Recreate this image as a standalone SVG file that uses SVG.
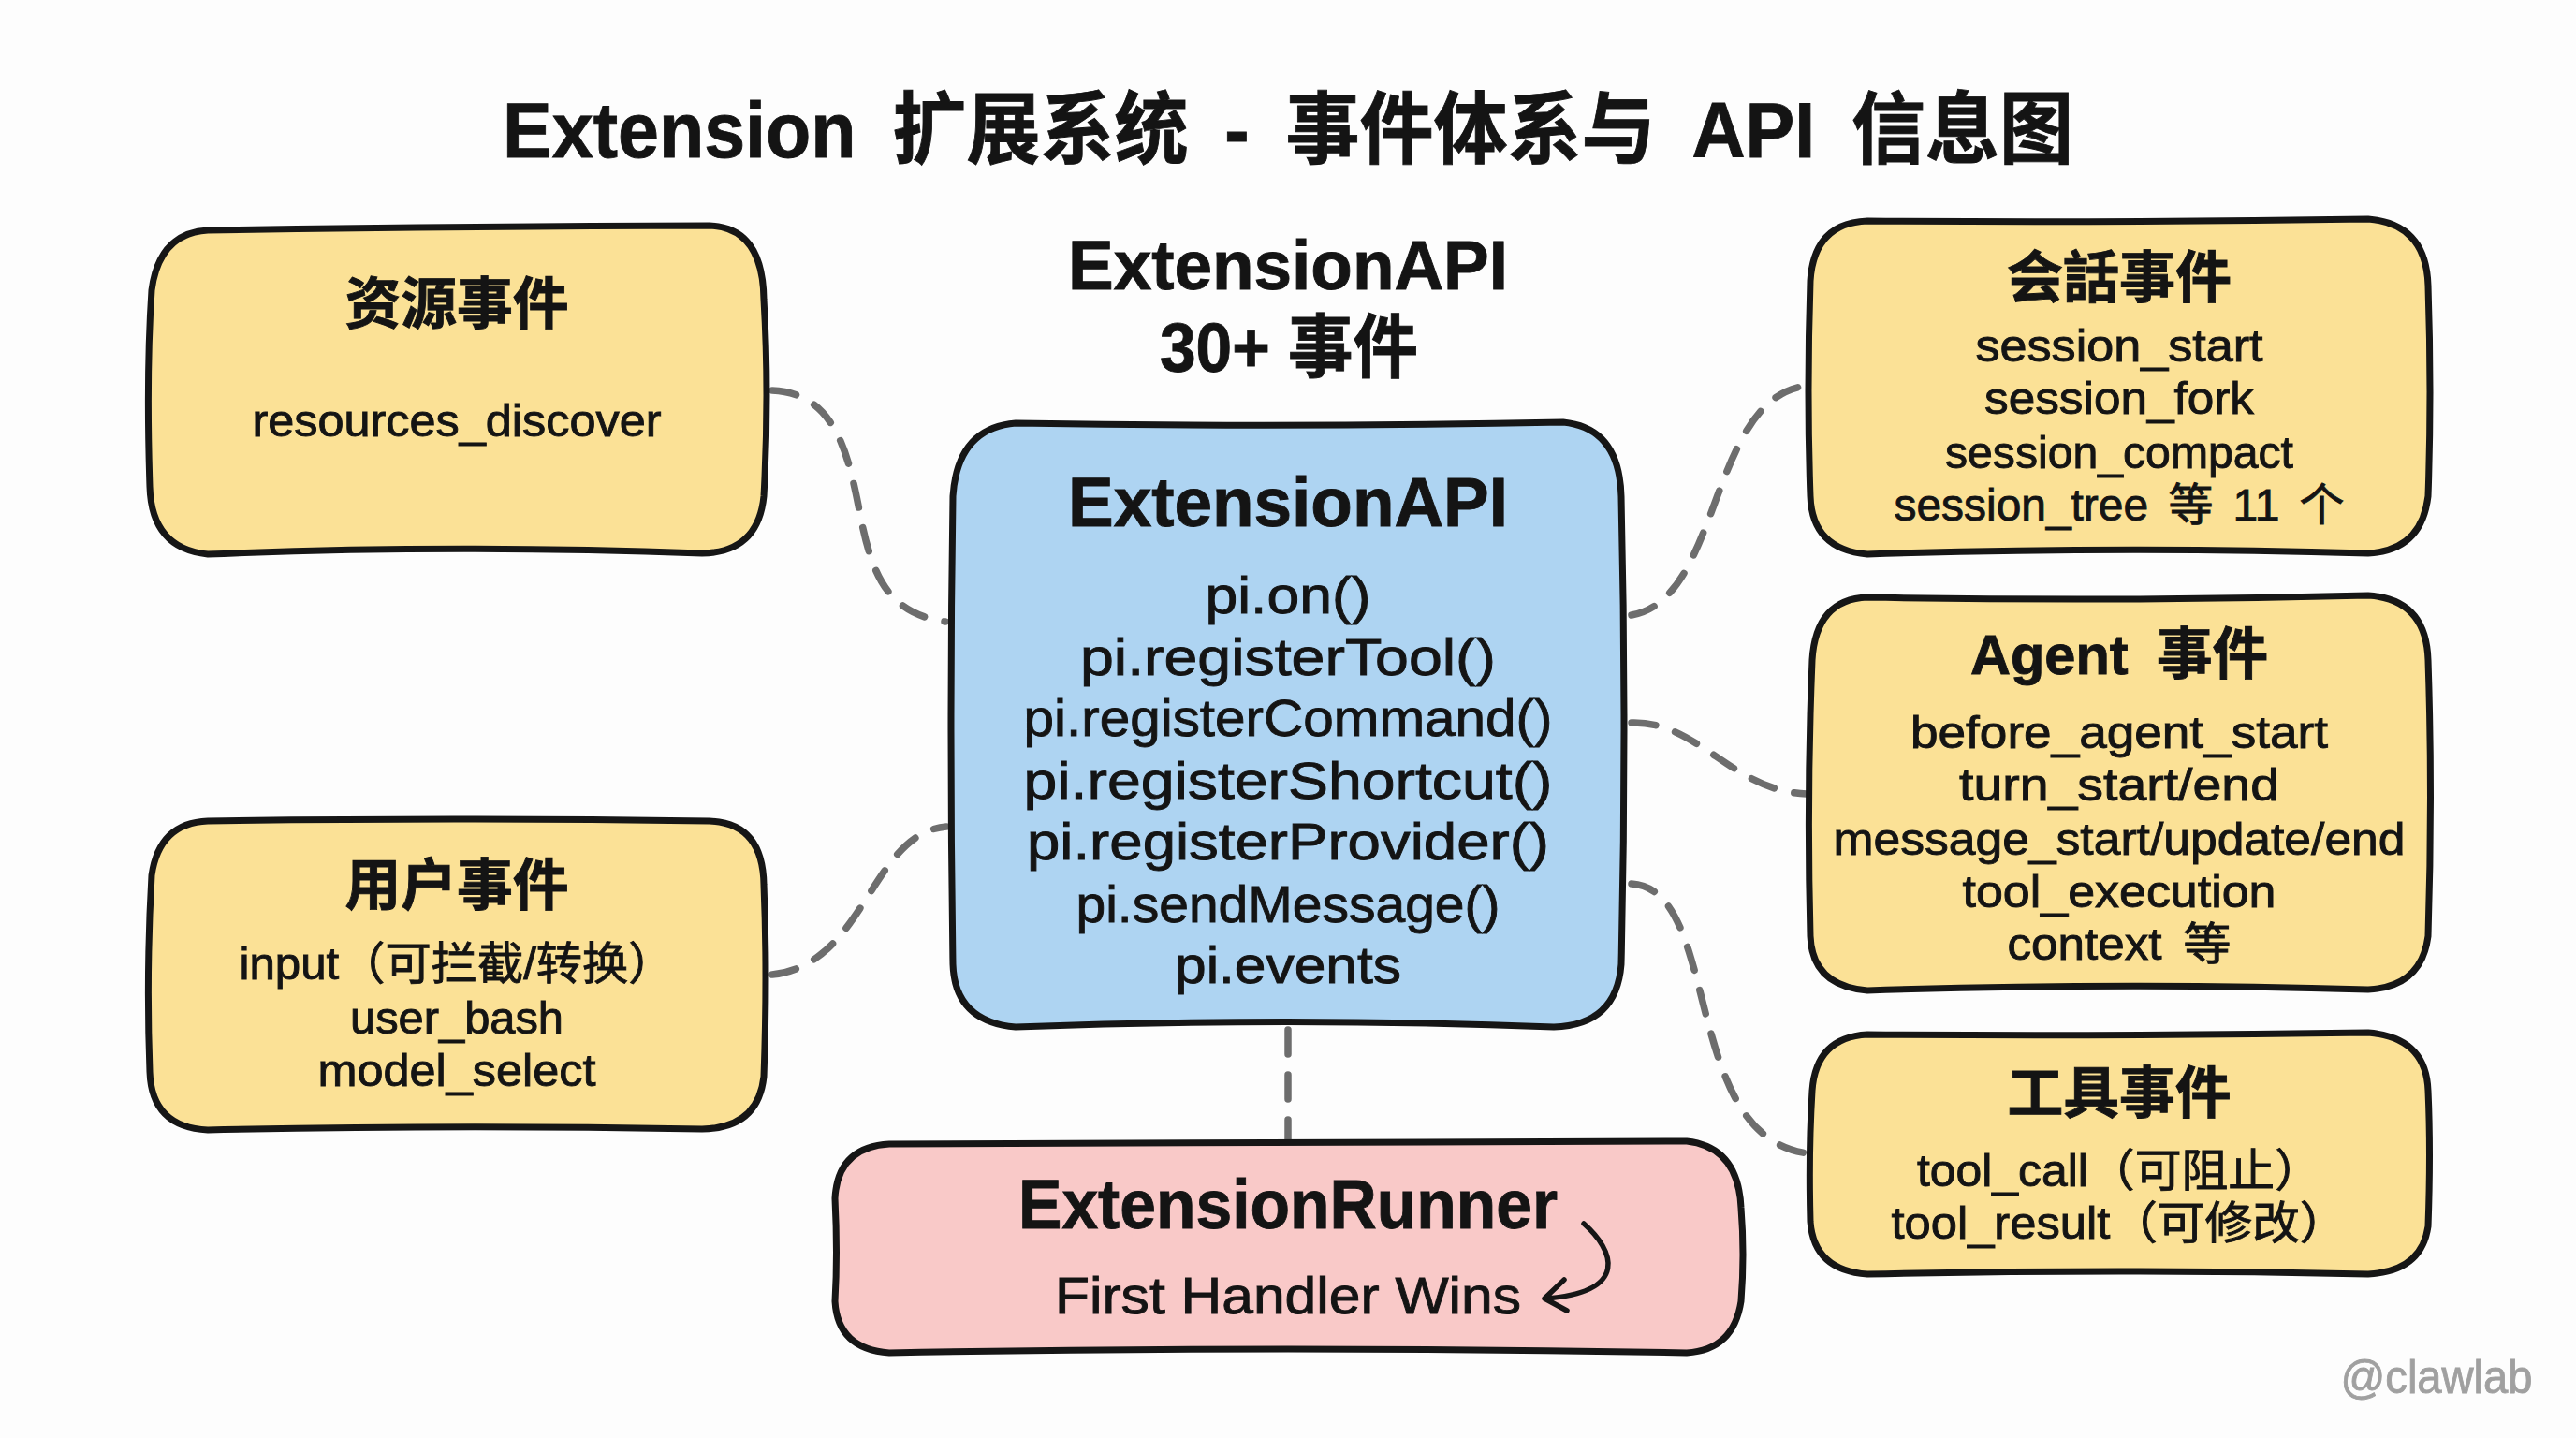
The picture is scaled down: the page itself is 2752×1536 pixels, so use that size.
<svg xmlns="http://www.w3.org/2000/svg" width="2752" height="1536" viewBox="0 0 2752 1536">
<style>
text{font-family:"Liberation Sans","Noto Sans CJK SC",sans-serif;fill:#141414;text-anchor:middle;stroke:#141414;stroke-width:.9px}
.b{fill:none;stroke:#161616;stroke-width:7;stroke-linejoin:round}
.y{fill:#fbe196}.s{fill:#aed4f2}.p{fill:#f9c9c8}
.t{font-size:84px;font-weight:700;word-spacing:18px}
.h{font-size:74px;font-weight:700}
.h2{font-size:60px;font-weight:700;word-spacing:14px}
.m{font-size:56px}
.n{font-size:48px;word-spacing:8px}
.c{fill:none;stroke:#6d6d6d;stroke-width:7.5;stroke-linecap:round;stroke-dasharray:26 22}
</style>
<rect width="2752" height="1536" fill="#fdfdfd"/>
<g id="connectors">
<path class="c" d="M825 417C890 420 905 480 917 540C930 610 945 655 1010 664"/>
<path class="c" d="M825 1041C925 1030 930 890 1011 883"/>
<path class="c" d="M1743 657C1840 640 1825 425 1930 412"/>
<path class="c" d="M1743 772C1815 770 1850 845 1930 848"/>
<path class="c" d="M1743 944C1840 950 1795 1215 1932 1232"/>
<path class="c" d="M1376 1100V1220"/>
</g>
<text class="t" x="1376" y="168" textLength="1678" lengthAdjust="spacingAndGlyphs">Extension 扩展系统 - 事件体系与 API 信息图</text>
<g id="api-label">
<text class="h" x="1376" y="309" textLength="470" lengthAdjust="spacingAndGlyphs">ExtensionAPI</text>
<text class="h" x="1377" y="397" textLength="276" lengthAdjust="spacingAndGlyphs">30+ 事件</text>
</g>
<g id="resource-events">
<path class="b y" d="M222 246Q480 242 758 241Q815 243 816 320Q822 420 816 530Q810 590 750 591Q480 581 222 592Q162 586 160 520Q156 400 162 310Q170 249 222 246Z"/>
<text class="h2" x="488" y="346" textLength="239" lengthAdjust="spacingAndGlyphs">资源事件</text>
<text class="n" x="488" y="466" textLength="437" lengthAdjust="spacingAndGlyphs">resources_discover</text>
</g>
<g id="user-events">
<path class="b y" d="M222 877Q480 873 758 877Q815 879 816 945Q820 1040 816 1150Q810 1205 750 1206Q480 1201 222 1207Q162 1204 160 1145Q156 1040 162 935Q170 879 222 877Z"/>
<text class="h2" x="488" y="967" textLength="239" lengthAdjust="spacingAndGlyphs">用户事件</text>
<text class="n" x="488" y="1046" textLength="465" lengthAdjust="spacingAndGlyphs">input（可拦截/转换）</text>
<text class="n" x="488" y="1104" textLength="228" lengthAdjust="spacingAndGlyphs">user_bash</text>
<text class="n" x="488" y="1160" textLength="297" lengthAdjust="spacingAndGlyphs">model_select</text>
</g>
<g id="extension-api">
<path class="b s" d="M1085 452Q1376 457 1670 451Q1730 457 1732 530Q1738 780 1732 1030Q1727 1095 1660 1097Q1376 1086 1085 1097Q1020 1091 1018 1030Q1014 780 1018 530Q1023 457 1085 452Z"/>
<text class="h" x="1376" y="562" textLength="470" lengthAdjust="spacingAndGlyphs">ExtensionAPI</text>
<text class="m" x="1376" y="655" textLength="177" lengthAdjust="spacingAndGlyphs">pi.on()</text>
<text class="m" x="1376" y="721" textLength="444" lengthAdjust="spacingAndGlyphs">pi.registerTool()</text>
<text class="m" x="1376" y="786" textLength="565" lengthAdjust="spacingAndGlyphs">pi.registerCommand()</text>
<text class="m" x="1376" y="853" textLength="565" lengthAdjust="spacingAndGlyphs">pi.registerShortcut()</text>
<text class="m" x="1376" y="918" textLength="558" lengthAdjust="spacingAndGlyphs">pi.registerProvider()</text>
<text class="m" x="1376" y="985" textLength="453" lengthAdjust="spacingAndGlyphs">pi.sendMessage()</text>
<text class="m" x="1376" y="1050" textLength="242" lengthAdjust="spacingAndGlyphs">pi.events</text>
</g>
<g id="extension-runner">
<path class="b p" d="M950 1222Q1376 1222 1802 1219Q1857 1225 1860 1290Q1864 1340 1860 1390Q1852 1442 1802 1445Q1376 1437 950 1445Q895 1441 892 1390Q895 1340 892 1280Q895 1225 950 1222Z"/>
<text class="h" x="1376" y="1312" textLength="576" lengthAdjust="spacingAndGlyphs">ExtensionRunner</text>
<text class="m" x="1376" y="1403" textLength="498" lengthAdjust="spacingAndGlyphs">First Handler Wins</text>
<path fill="none" stroke="#161616" stroke-width="5.5" stroke-linecap="round" stroke-linejoin="round" d="M1692 1307C1724 1335 1742 1380 1651 1387M1671 1367L1650 1387L1674 1400"/>
</g>
<g id="session-events">
<path class="b y" d="M1995 236Q2264 238 2530 234Q2592 239 2594 305Q2598 420 2594 530Q2587 588 2530 591Q2264 583 1995 592Q1936 587 1934 530Q1930 420 1934 300Q1938 238 1995 236Z"/>
<text class="h2" x="2264" y="318" textLength="240" lengthAdjust="spacingAndGlyphs">会話事件</text>
<text class="n" x="2264" y="386" textLength="307" lengthAdjust="spacingAndGlyphs">session_start</text>
<text class="n" x="2264" y="442" textLength="288" lengthAdjust="spacingAndGlyphs">session_fork</text>
<text class="n" x="2264" y="500" textLength="372" lengthAdjust="spacingAndGlyphs">session_compact</text>
<text class="n" x="2264" y="556" textLength="481" lengthAdjust="spacingAndGlyphs">session_tree 等 11 个</text>
</g>
<g id="agent-events">
<path class="b y" d="M1995 638Q2264 643 2530 636Q2592 640 2594 705Q2599 850 2594 1000Q2587 1054 2530 1057Q2264 1049 1995 1058Q1936 1053 1934 1000Q1930 850 1936 705Q1940 640 1995 638Z"/>
<text class="h2" x="2264" y="720" textLength="318" lengthAdjust="spacingAndGlyphs">Agent 事件</text>
<text class="n" x="2264" y="799" textLength="446" lengthAdjust="spacingAndGlyphs">before_agent_start</text>
<text class="n" x="2264" y="855" textLength="342" lengthAdjust="spacingAndGlyphs">turn_start/end</text>
<text class="n" x="2264" y="913" textLength="611" lengthAdjust="spacingAndGlyphs">message_start/update/end</text>
<text class="n" x="2264" y="969" textLength="335" lengthAdjust="spacingAndGlyphs">tool_execution</text>
<text class="n" x="2264" y="1025" textLength="239" lengthAdjust="spacingAndGlyphs">context 等</text>
</g>
<g id="tool-events">
<path class="b y" d="M1995 1105Q2264 1107 2530 1103Q2592 1108 2594 1165Q2597 1230 2594 1310Q2587 1358 2530 1361Q2264 1355 1995 1361Q1938 1357 1934 1305Q1932 1230 1936 1165Q1940 1108 1995 1105Z"/>
<text class="h2" x="2264" y="1189" textLength="239" lengthAdjust="spacingAndGlyphs">工具事件</text>
<text class="n" x="2264" y="1267" textLength="432" lengthAdjust="spacingAndGlyphs">tool_call（可阻止）</text>
<text class="n" x="2264" y="1323" textLength="487" lengthAdjust="spacingAndGlyphs">tool_result（可修改）</text>
</g>
<text id="watermark" x="2603" y="1488" font-size="50" style="fill:#a0a0a0;stroke:#a0a0a0" textLength="205" lengthAdjust="spacingAndGlyphs">@clawlab</text>
</svg>
